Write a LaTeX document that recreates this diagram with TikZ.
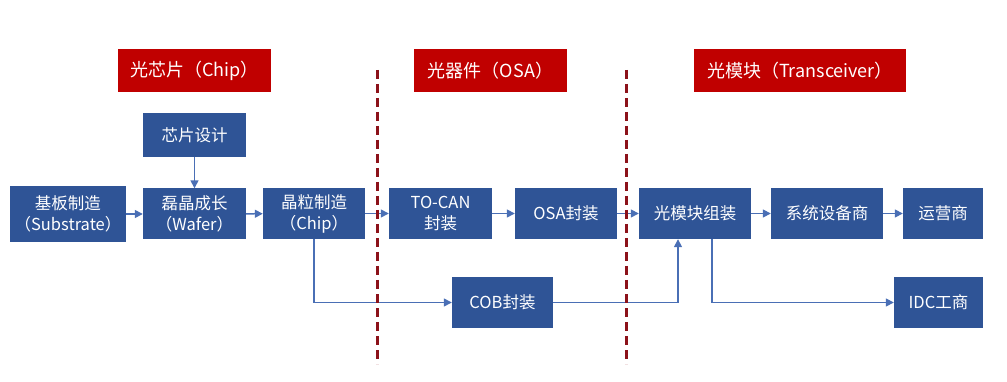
\documentclass[tikz,border=0pt]{standalone}
\usepackage{fontspec}
\setmainfont{Noto Sans CJK SC}
\usetikzlibrary{arrows.meta}

\definecolor{boxblue}{RGB}{47,84,150}
\definecolor{headred}{RGB}{192,0,0}
\definecolor{linkblue}{RGB}{74,111,181}
\definecolor{splitred}{RGB}{140,18,26}

\begin{document}
\begin{tikzpicture}[
    x=1pt, y=-1pt,
    stage/.style={
        rectangle,
        fill=boxblue,
        text=white,
        align=center,
        inner sep=0pt,
        minimum height=51pt,
        font=\fontsize{16.5}{21}\selectfont
    },
    header/.style={
        rectangle,
        fill=headred,
        text=white,
        inner sep=0pt,
        minimum height=43pt,
        font=\fontsize{18}{22}\selectfont
    },
    flow/.style={
        draw=linkblue,
        line width=1.5pt,
        -{Triangle[length=8pt,width=8pt]}
    },
    split/.style={
        draw=splitred,
        line width=3pt,
        dash pattern=on 9pt off 5pt
    }
]

\useasboundingbox (0,0) rectangle (1007,382);

% Segment headers
\node[header, minimum width=153pt] (hChip) at (194.5,70.5) {光芯片（Chip）};
\node[header, minimum width=153pt] (hOSA) at (490.5,70.5) {光器件（OSA）};
\node[header, minimum width=212pt] (hTrans) at (800,70.5) {光模块（Transceiver）};

% Stages
\node[stage, minimum width=103pt, minimum height=44pt] (design) at (194.5,135) {芯片设计};
\node[stage, minimum width=116pt, minimum height=56pt] (substrate) at (68,214) {基板制造\\（Substrate）};
\node[stage, minimum width=103pt] (wafer) at (194.5,214) {磊晶成长\\（Wafer）};
\node[stage, minimum width=102pt] (chip) at (314,213.5) {晶粒制造\\（Chip）};
\node[stage, minimum width=103pt] (tocan) at (440.5,213.5) {TO-CAN\\封装};
\node[stage, minimum width=102pt] (osa) at (566,213.5) {OSA封装};
\node[stage, minimum width=101pt] (cob) at (502.5,302.5) {COB封装};
\node[stage, minimum width=112pt] (module) at (695,213.5) {光模块组装};
\node[stage, minimum width=112pt] (system) at (827,213.5) {系统设备商};
\node[stage, minimum width=80pt] (operator) at (943,213.5) {运营商};
\node[stage, minimum width=89pt] (idc) at (938.5,302.5) {IDC工商};

\draw[flow] (design) -- (wafer);
\draw[flow] (substrate) -- (wafer);
\draw[flow] (wafer) -- (chip);
\draw[flow] (chip) -- (tocan);
\draw[flow] (tocan) -- (osa);
\draw[flow] (osa) -- (module);
\draw[flow] (module) -- (system);
\draw[flow] (system) -- (operator);

% COB branch
\draw[flow] (chip.south) |- (cob.west);
\draw[flow] (cob.east) -| ([xshift=-17pt]module.south);
\draw[flow] ([xshift=17pt]module.south) |- (idc.west);

% Segment borders
\coordinate (b1top) at (377,70);
\coordinate (b1bot) at (377,364);
\coordinate (b2top) at (626,70);
\coordinate (b2bot) at (626,364);
\draw[split] (b1top) -- (b1bot);
\draw[split] (b2top) -- (b2bot);

\end{tikzpicture}
\end{document}
